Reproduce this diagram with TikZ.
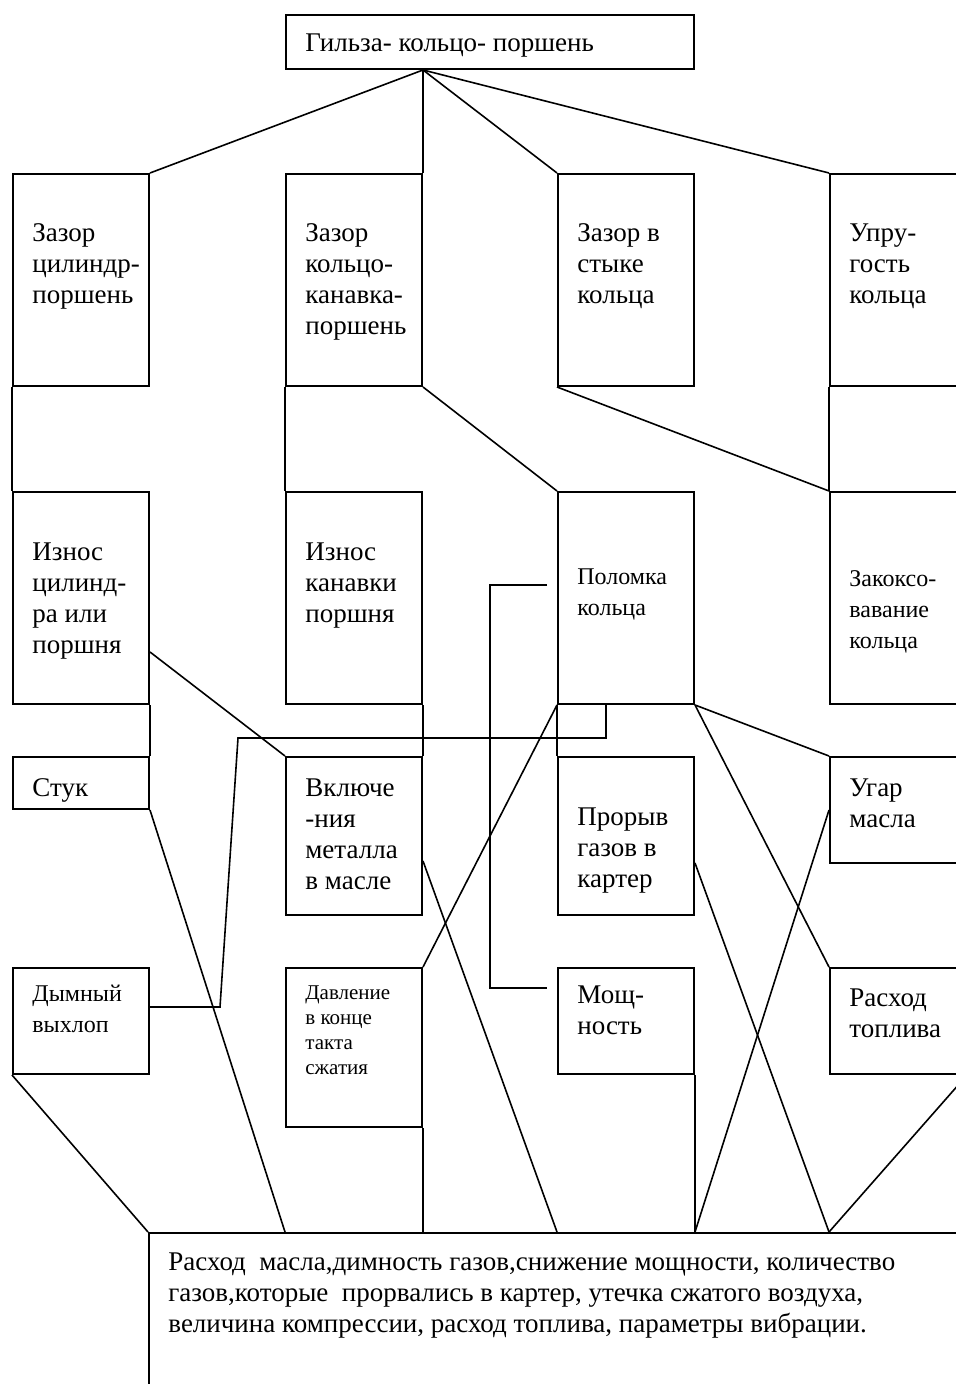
\documentclass[tikz,border=0pt]{standalone}
\usepackage{fontspec}
\setmainfont{Liberation Serif}
\usepackage{tikz}
\usetikzlibrary{
  calc,
  positioning,
}
\tikzstyle{blk} = [
  draw,
  rectangle,
  line width=1pt,
  inner sep=0pt,
  minimum width=68pt,
  anchor=north west,
]
\tikzstyle{lbl} = [
  inner sep=0pt,
  align=left,
  font=\fontsize{13.5}{15.5}\selectfont,
]
\tikzstyle{con} = [line width=0.8pt]

\begin{document}
\begin{tikzpicture}[x=0.5pt,y=-0.5pt]
      \useasboundingbox (0,0) rectangle (956,1384);
      \clip (0,0) rectangle (956,1384);

      \node[blk,minimum width=204pt,minimum height=27pt]   (top)   at (285,14)   {};
      \node[lbl,below right=9.5pt and 10pt of top.north west]   (ttop)   {Гильза- кольцо- поршень};

      \node[blk,minimum height=106pt]   (a1)   at (12,173)    {};
      \node[blk,minimum height=106pt]   (a2)   at (285,173)   {};
      \node[blk,minimum height=106pt]   (a3)   at (557,173)   {};
      \node[blk,minimum height=106pt]   (a4)   at (829,173)   {};
      \node[lbl,below right=25pt and 10pt of a1.north west]   (ta1)   {Зазор\\цилиндр-\\поршень};
      \node[lbl,below right=25pt and 10pt of a2.north west]   (ta2)   {Зазор\\кольцо-\\канавка-\\поршень};
      \node[lbl,below right=25pt and 10pt of a3.north west]   (ta3)   {Зазор в\\стыке\\кольца};
      \node[lbl,below right=25pt and 10pt of a4.north west]   (ta4)   {Упру-\\гость\\кольца};

      \node[blk,minimum height=106pt]   (b1)   at (12,491)    {};
      \node[blk,minimum height=106pt]   (b2)   at (285,491)   {};
      \node[blk,minimum height=106pt]   (b3)   at (557,491)   {};
      \node[blk,minimum height=106pt]   (b4)   at (829,491)   {};
      \node[lbl,below right=25.5pt and 10pt of b1.north west]   (tb1)   {Износ\\цилинд-\\ра или\\поршня};
      \node[lbl,below right=25.5pt and 10pt of b2.north west]   (tb2)   {Износ\\канавки\\поршня};
      \node[lbl,font=\fontsize{12}{15.5}\selectfont,below right=38.5pt and 10pt of b3.north west]   (tb3)   {Поломка\\кольца};
      \node[lbl,font=\fontsize{12}{15.5}\selectfont,below right=39.5pt and 10pt of b4.north west]   (tb4)   {Закоксо-\\вавание\\кольца};

      \node[blk,minimum height=26pt]    (c1)   at (12,756)    {};
      \node[blk,minimum height=79pt]    (c2)   at (285,756)   {};
      \node[blk,minimum height=79pt]    (c3)   at (557,756)   {};
      \node[blk,minimum height=53pt]    (c4)   at (829,756)   {};
      \node[lbl,below right=11pt and 10pt of c1.north west]   (tc1)   {Стук};
      \node[lbl,below right=11pt and 10pt of c2.north west]   (tc2)   {Включе\\-ния\\металла\\в масле};
      \node[lbl,below right=25.5pt and 10pt of c3.north west]   (tc3)   {Прорыв\\газов в\\картер};
      \node[lbl,below right=11pt and 10pt of c4.north west]   (tc4)   {Угар\\масла};

      \node[blk,minimum height=53pt]    (d1)   at (12,967)    {};
      \node[blk,minimum height=79.5pt]  (d2)   at (285,967)   {};
      \node[blk,minimum height=53pt]    (d3)   at (557,967)   {};
      \node[blk,minimum height=53pt]    (d4)   at (829,967)   {};
      \node[lbl,font=\fontsize{12}{15.5}\selectfont,below right=9pt and 10pt of d1.north west]   (td1)   {Дымный\\выхлоп};
      \node[lbl,font=\fontsize{10.5}{12.5}\selectfont,below right=9pt and 10pt of d2.north west]   (td2)   {Давление\\в конце\\такта\\сжатия};
      \node[lbl,below right=9pt and 10pt of d3.north west]   (td3)   {Мощ-\\ность};
      \node[lbl,below right=10.5pt and 10pt of d4.north west]   (td4)   {Расход\\топлива};

      \node[blk,minimum width=450pt,minimum height=110pt]   (bot)   at (148,1232)   {};
      \node[lbl,below right=10pt and 10pt of bot.north west]   (tbot)   {Расход\ \ масла,димность газов,снижение мощности, количество\\газов,которые\ \ прорвались в картер, утечка сжатого воздуха,\\величина компрессии, расход топлива, параметры вибрации.};

      \coordinate (k1) at (238,738);
      \coordinate (k2) at (220,1007);

      \draw[con] (top.south -| a2.east) -- (a1.north east);
      \draw[con] (top.south -| a2.east) -- (a2.north east);
      \draw[con] (top.south -| a2.east) -- (a3.north west);
      \draw[con] (top.south -| a2.east) -- (a4.north west);

      \draw[con] (a1.south west) -- (b1.north west);
      \draw[con] (a2.south west) -- (b2.north west);
      \draw[con] (a2.south east) -- (b3.north west);
      \draw[con] (a3.south west) -- (b4.north west);
      \draw[con] (a4.south west) -- (b4.north west);

      \draw[con] (b1.south east) -- (c1.north east);
      \draw[con] ([yshift=-27pt]b1.east) -- (c2.north west);
      \draw[con] (b2.south east) -- (c2.north east);
      \draw[con] (b3.south west) -- (c3.north west);
      \draw[con] (b3.south west) -- (d2.north east);
      \draw[con] (b3.south east) -- (c4.north west);
      \draw[con] (b3.south east) -- (d4.north west);
      \draw[con] ([shift={(-5pt,6.5pt)}]b3.west) -- ++(-28.5pt,0) |- ([shift={(-5pt,-10.5pt)}]d3.north west);
      \draw[con] ([xshift=-10pt,yshift=1pt]b3.south) |- (k1) -- (k2) -- (k2 -| d1.east);

      \draw[con] (c1.south east) -- (bot.north -| d2.west);
      \draw[con] (d1.south west) -- (bot.north west);
      \draw[con] (d2.south east) -- (bot.north -| d2.east);
      \draw[con] ([yshift=-12.5pt]c2.east) -- (bot.north -| d3.west);
      \draw[con] ([yshift=-13.5pt]c3.east) -- (bot.north -| d4.west);
      \draw[con] (c4.west) -- (bot.north -| d3.east);
      \draw[con] (d3.south east) -- (bot.north -| d3.east);
      \draw[con] (d4.south east) -- (bot.north -| d4.west);
\end{tikzpicture}
\end{document}
